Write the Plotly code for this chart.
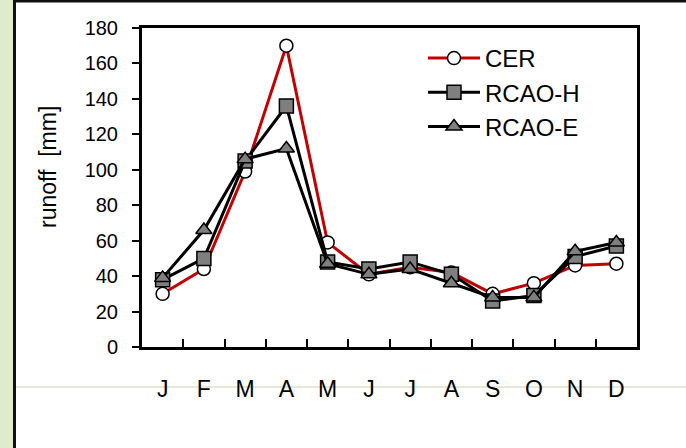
import plotly.graph_objects as go

months = ["J", "F", "M", "A", "M ", "J ", "J  ", "A ", "S", "O", "N", "D"]
month_labels = ["J", "F", "M", "A", "M", "J", "J", "A", "S", "O", "N", "D"]
cer = [30, 44, 99, 170, 59, 41, 45, 42, 30, 36, 46, 47]
rcao_h = [38, 50, 105, 136, 48, 44, 48, 41, 26, 29, 51, 57]
rcao_e = [39, 66, 106, 112, 47, 41, 44, 36, 28, 28, 54, 59]
y_ticks = [0, 20, 40, 60, 80, 100, 120, 140, 160, 180]

W, H = 686, 448
L, R, T, B = 142, 49, 28, 101
PW, PH = W - L - R, H - T - B


def px(xp):
    return (xp - L) / PW


def py(yp):
    return (H - B - yp) / PH


fam = "Liberation Sans, Arial, sans-serif"

fig = go.Figure()
fig.add_trace(go.Scatter(
    x=months, y=cer, name="CER", mode="lines+markers",
    line=dict(color="#c00000", width=3),
    marker=dict(symbol="circle", size=13, color="white", line=dict(color="black", width=1.5)),
    legendgroup="a"))
fig.add_trace(go.Scatter(
    x=months, y=rcao_h, name="RCAO-H", mode="lines+markers",
    line=dict(color="black", width=3),
    marker=dict(symbol="square", size=14, color="#7f7f7f", line=dict(color="black", width=1.5)),
    legendgroup="b"))
fig.add_trace(go.Scatter(
    x=months, y=rcao_e, name="RCAO-E", mode="lines+markers",
    line=dict(color="black", width=3),
    marker=dict(symbol="triangle-up", size=14, color="#7f7f7f", line=dict(color="black", width=1.5)),
    legendgroup="c"))

fig.update_layout(
    width=W, height=H,
    margin=dict(l=L, r=R, t=T, b=B, pad=0),
    paper_bgcolor="white", plot_bgcolor="white",
    font=dict(family=fam, size=20, color="black"),
    showlegend=True,
    legend=dict(x=px(423), y=py(36),
                xanchor="left", yanchor="top", bgcolor="rgba(0,0,0,0)",
                traceorder="grouped", tracegroupgap=0,
                font=dict(family=fam, size=24, color="black"),
                itemwidth=52),
    xaxis=dict(type="category", range=[-0.5, 11.5], tickmode="array",
               tickvals=months, ticktext=month_labels,
               tickfont=dict(family=fam, size=23, color="black"),
               ticks="inside", ticklen=8, tickwidth=2, tickcolor="black",
               tickson="boundaries", showgrid=False, zeroline=False,
               showline=True, linecolor="black", linewidth=3, mirror=True,
               ticklabelstandoff=19),
    yaxis=dict(range=[0, 180], tickvals=y_ticks, ticks="outside", ticklen=7,
               tickfont=dict(family=fam, size=20, color="black"),
               tickwidth=2, tickcolor="black", showgrid=False, zeroline=False,
               showline=True, linecolor="black", linewidth=3, mirror=True,
               ticklabelstandoff=10),
    annotations=[dict(text="runoff\u00a0\u00a0[mm]", textangle=-90, xref="paper", yref="paper",
                      x=px(48), y=py(167),
                      xanchor="center", yanchor="middle", showarrow=False,
                      font=dict(family=fam, size=23, color="black"))],
    shapes=[
        dict(type="rect", xref="paper", yref="paper",
             x0=px(0), x1=px(13), y0=py(H), y1=py(0),
             fillcolor="#e0ebcc", line=dict(width=0), layer="below"),
        dict(type="line", xref="paper", yref="paper",
             x0=px(14.5), x1=px(14.5), y0=py(H), y1=py(0),
             line=dict(color="#111111", width=3)),
        dict(type="line", xref="paper", yref="paper",
             x0=px(13), x1=px(W), y0=py(1), y1=py(1),
             line=dict(color="#111111", width=3)),
        dict(type="line", xref="paper", yref="paper",
             x0=px(16), x1=px(W), y0=py(387), y1=py(387),
             line=dict(color="#dde0c8", width=1.5), layer="below"),
    ],
)

fig.write_html("out.html")
